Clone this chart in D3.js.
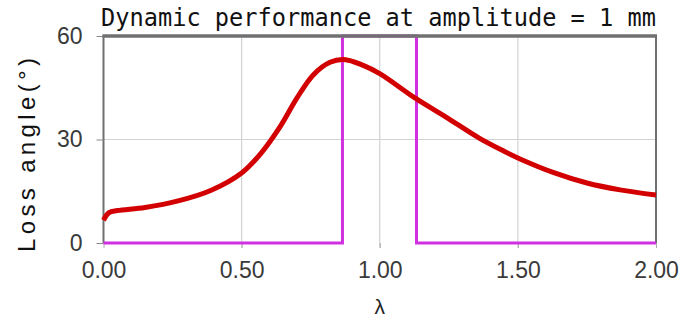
<!DOCTYPE html>
<html>
<head>
<meta charset="utf-8">
<script src="https://cdn.jsdelivr.net/npm/d3@7"></script>
<style>
  body { margin: 0; background: #fff; }
  svg { display: block; }
  .tick-label { font-family: "Liberation Sans", Arial, sans-serif; font-size: 23px; fill: #3a3a3a; }
</style>
</head>
<body>
<svg id="chart" width="685" height="326"></svg>
<script>
// loss angle curve
var lambdaValues = [0.00, 0.02, 0.05, 0.15, 0.27, 0.39, 0.50, 0.57, 0.64, 0.70, 0.76, 0.82, 0.87, 0.94, 1.00, 1.13, 1.24, 1.36, 1.45, 1.51, 1.63, 1.75, 1.87, 2.00];
var lossAngle = [6.6, 8.8, 9.4, 10.3, 12.2, 15.3, 20.3, 26.0, 33.8, 42.0, 48.8, 52.4, 53.2, 51.5, 49.1, 41.9, 36.5, 30.4, 26.6, 24.3, 20.4, 17.4, 15.4, 13.9];
// magenta pulse (band edges)
var pulseX = [0.00, 0.865, 0.865, 1.133, 1.133, 2.00];
var pulseY = [0, 0, 60, 60, 0, 0];
var xTicks = [0, 0.5, 1.0, 1.5, 2.0];
var yTicks = [0, 30, 60];

var svg = d3.select("#chart");
var x = d3.scaleLinear().domain([0, 2]).range([103.5, 656]);
var y = d3.scaleLinear().domain([0, 60]).range([243, 36]);

// grid
svg.selectAll(".vgrid").data(xTicks.slice(1, 4)).enter().append("line")
    .attr("x1", function (d) { return x(d); }).attr("x2", function (d) { return x(d); })
    .attr("y1", y(60)).attr("y2", y(0) + 5)
    .style("stroke", "#d2d2d2").style("stroke-width", 1.2);
svg.append("line")
    .attr("x1", x(0)).attr("x2", x(2)).attr("y1", y(30)).attr("y2", y(30))
    .style("stroke", "#d2d2d2").style("stroke-width", 1.2);

// frame
svg.append("path")
    .attr("d", "M" + x(0) + "," + y(0) + "V" + y(60) + "H" + x(2) + "V" + y(0))
    .style("fill", "none").style("stroke", "#707070").style("stroke-width", 2);

// axes
var yAxis = d3.axisLeft(y).tickValues(yTicks).tickSize(7).tickPadding(14).tickFormat(d3.format("d"));
var gy = svg.append("g").attr("transform", "translate(" + x(0) + ",0)").call(yAxis);
gy.select(".domain").remove();
gy.selectAll(".tick line").style("stroke", "#888");
gy.selectAll("text").attr("class", "tick-label").attr("font-family", null).attr("font-size", null);

var xAxis = d3.axisBottom(x).tickValues(xTicks).tickSize(5).tickPadding(14).tickFormat(d3.format(".2f"));
var gx = svg.append("g").attr("transform", "translate(0," + y(0) + ")").call(xAxis);
gx.select(".domain").remove();
gx.selectAll(".tick line").style("stroke", "#aaa");
gx.selectAll("text").attr("class", "tick-label").attr("font-family", null).attr("font-size", null);

// pulse
var pulseLine = d3.line()
    .x(function (d) { return x(d[0]); })
    .y(function (d) { return y(d[1]); });
svg.append("path")
    .datum(d3.zip(pulseX, pulseY))
    .attr("d", pulseLine)
    .style("fill", "none").style("stroke", "#d030e0").style("stroke-width", 3);

// curve
var curveLine = d3.line()
    .x(function (d) { return x(d[0]); })
    .y(function (d) { return y(d[1]); })
    .curve(d3.curveCatmullRom.alpha(0.5));
svg.append("path")
    .datum(d3.zip(lambdaValues, lossAngle))
    .attr("d", curveLine)
    .style("fill", "none").style("stroke", "#d20000").style("stroke-width", 5)
    .style("stroke-linejoin", "round");

// top border over the pulse
svg.append("line")
    .attr("x1", x(0) - 1).attr("x2", x(2) + 1).attr("y1", y(60)).attr("y2", y(60))
    .style("stroke", "#707070").style("stroke-width", 3.5);

// titles
svg.append("text")
    .attr("x", 101).attr("y", 26)
    .attr("textLength", 555).attr("lengthAdjust", "spacingAndGlyphs")
    .style("font-family", "DejaVu Sans Mono, monospace").style("font-size", "24px").style("fill", "#111")
    .text("Dynamic performance at amplitude = 1 mm");
svg.append("text")
    .attr("transform", "translate(35,252) rotate(-90)")
    .attr("textLength", 194).attr("lengthAdjust", "spacing")
    .style("font-family", "Liberation Sans, Arial, sans-serif").style("font-size", "24px").style("fill", "#111")
    .text("Loss angle(°)");
svg.append("text")
    .attr("x", x(1)).attr("y", 314).attr("text-anchor", "middle")
    .style("font-family", "Liberation Sans, Arial, sans-serif").style("font-size", "21px").style("fill", "#222")
    .text("λ");
</script>
</body>
</html>
